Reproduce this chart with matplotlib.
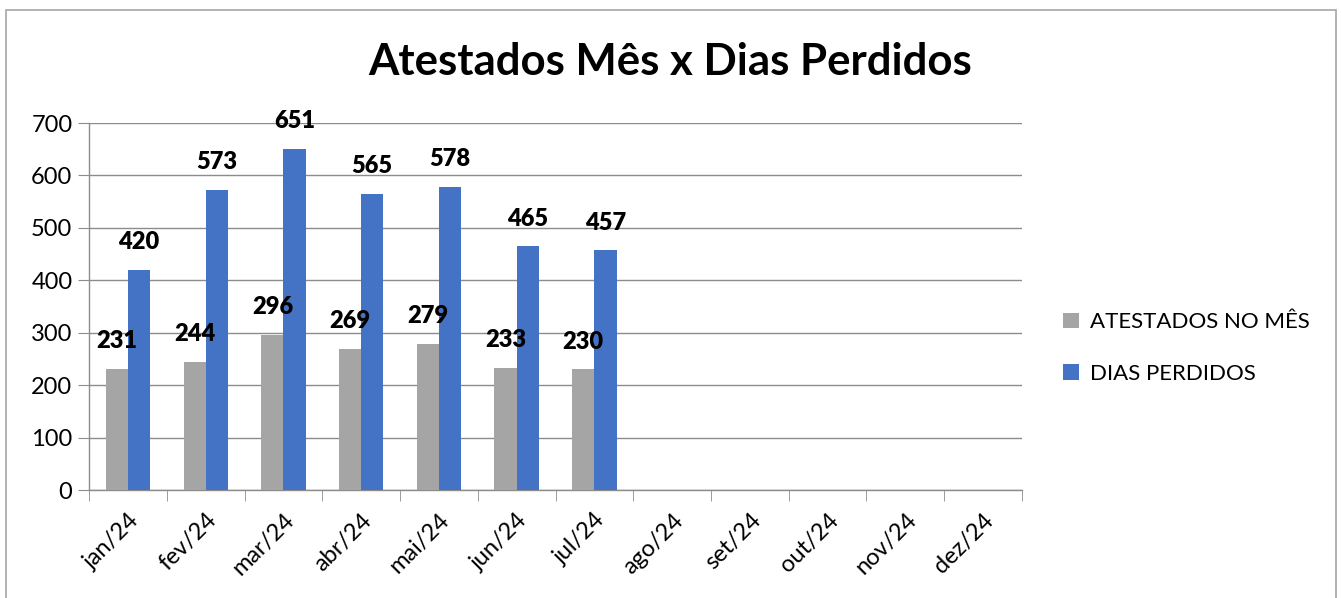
import matplotlib.pyplot as plt
import matplotlib.patches as patches
import numpy as np

plt.rcParams['font.family'] = ['Lato', 'DejaVu Sans']

# data
months = ['jan/24', 'fev/24', 'mar/24', 'abr/24', 'mai/24', 'jun/24',
          'jul/24', 'ago/24', 'set/24', 'out/24', 'nov/24', 'dez/24']
atestados = [231, 244, 296, 269, 279, 233, 230]
dias_perdidos = [420, 573, 651, 565, 578, 465, 457]
yticks = [0, 100, 200, 300, 400, 500, 600, 700]

GRAY = '#A5A5A5'
BLUE = '#4472C4'
AXIS = '#8C8C8C'

fig = plt.figure(figsize=(13.41, 5.98), dpi=100)
ax = fig.add_axes([0.0664, 0.1806, 0.6957, 0.6137])

# outer chart border (bottom runs off the image)
fig.patches.append(patches.Rectangle((6 / 1341, -0.05), 1330 / 1341, 1 - 10 / 598 + 0.05,
                                     transform=fig.transFigure, fill=False,
                                     edgecolor='#A6A6A6', linewidth=1.2))

w = 0.285
x_a = np.arange(len(atestados))
x_d = np.arange(len(dias_perdidos))
bars_a = ax.bar(x_a - w / 2, atestados, width=w, color=GRAY, label='ATESTADOS NO MÊS', zorder=3)
bars_d = ax.bar(x_d + w / 2, dias_perdidos, width=w, color=BLUE, label='DIAS PERDIDOS', zorder=3)

for bars in (bars_a, bars_d):
    for b in bars:
        ax.annotate(f'{int(b.get_height())}', (b.get_x() + b.get_width() / 2, b.get_height()),
                    xytext=(0, 12), textcoords='offset points', ha='center', va='bottom',
                    fontsize=17, fontweight='heavy', color='black', zorder=4)

ax.set_xlim(-0.5, len(months) - 0.5)
ax.set_ylim(0, 700)
ax.set_yticks(yticks)
ax.set_yticklabels([str(v) for v in yticks], fontsize=17)
ax.yaxis.grid(True, color=AXIS, linewidth=1, zorder=0)
ax.tick_params(axis='y', length=8, color=AXIS, pad=4)

ax.set_xticks(np.arange(len(months)))
ax.set_xticklabels(months, fontsize=17, rotation=45, ha='right', rotation_mode='anchor')
ax.set_xticks(np.arange(len(months) + 1) - 0.5, minor=True)
ax.tick_params(axis='x', which='major', length=0, pad=14)
ax.tick_params(axis='x', which='minor', length=8, color=AXIS)

for s in ('top', 'right'):
    ax.spines[s].set_visible(False)
for s in ('left', 'bottom'):
    ax.spines[s].set_color(AXIS)
    ax.spines[s].set_linewidth(1)

fig.text(0.4996, 0.896, 'Atestados Mês x Dias Perdidos', ha='center', va='center',
         fontsize=31.5, fontweight='bold')

fig.legend(loc='center left', bbox_to_anchor=(0.778, 0.418), frameon=False,
           fontsize=16, handlelength=0.7, handleheight=0.7, handletextpad=0.5,
           labelspacing=1.4)

fig.savefig('out.png', dpi=100)
